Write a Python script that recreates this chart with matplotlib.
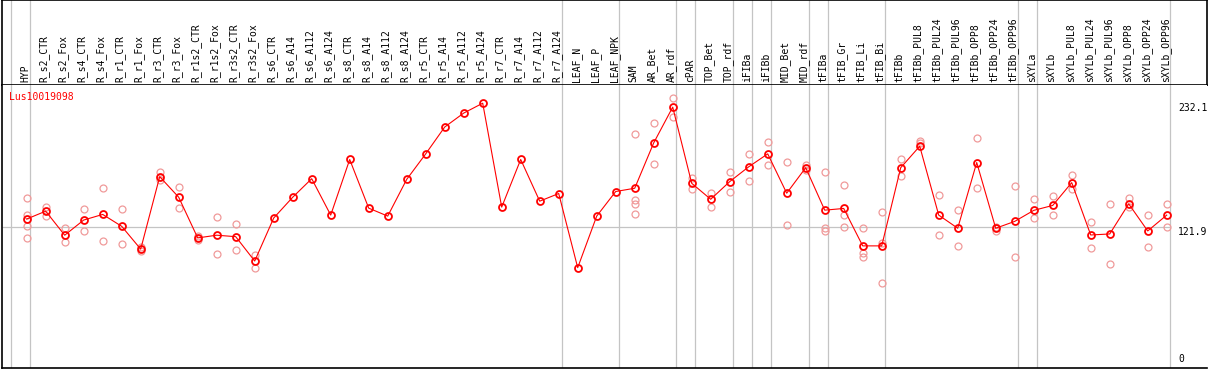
import numpy as np
import matplotlib
matplotlib.use('Agg')
import matplotlib.pyplot as plt

# Expression profile of Lus10019098 across samples
gene = 'Lus10019098'

labels = ['HYP', 'R_s2_CTR', 'R_s2_Fox', 'R_s4_CTR', 'R_s4_Fox', 'R_r1_CTR', 'R_r1_Fox',
          'R_r3_CTR', 'R_r3_Fox', 'R_r1s2_CTR', 'R_r1s2_Fox', 'R_r3s2_CTR', 'R_r3s2_Fox',
          'R_s6_CTR', 'R_s6_A14', 'R_s6_A112', 'R_s6_A124', 'R_s8_CTR', 'R_s8_A14',
          'R_s8_A112', 'R_s8_A124', 'R_r5_CTR', 'R_r5_A14', 'R_r5_A112', 'R_r5_A124',
          'R_r7_CTR', 'R_r7_A14', 'R_r7_A112', 'R_r7_A124', 'LEAF_N', 'LEAF_P', 'LEAF_NPK',
          'SAM', 'AR_Bet', 'AR_rdf', 'cPAR', 'TOP_Bet', 'TOP_rdf', 'iFIBa', 'iFIBb',
          'MID_Bet', 'MID_rdf', 'tFIBa', 'tFIB_Gr', 'tFIB_Li', 'tFIB_Bi', 'tFIBb',
          'tFIBb_PUL8', 'tFIBb_PUL24', 'tFIBb_PUL96', 'tFIBb_OPP8', 'tFIBb_OPP24',
          'tFIBb_OPP96', 'sXYLa', 'sXYLb', 'sXYLb_PUL8', 'sXYLb_PUL24', 'sXYLb_PUL96',
          'sXYLb_OPP8', 'sXYLb_OPP24', 'sXYLb_OPP96']

means = [129.0, 136.0, 114.6, 128.1, 133.1, 122.5, 102.2, 166.7, 148.4, 112.2, 114.6,
         113.3, 91.6, 129.9, 148.4, 164.9, 132.5, 182.0, 138.7, 131.6, 164.3, 187.0,
         210.9, 223.3, 232.1, 139.6, 182.0, 144.9, 151.7, 85.7, 131.6, 153.5, 156.4,
         196.8, 228.6, 160.8, 146.6, 162.3, 175.5, 187.0, 152.0, 174.7, 136.9, 138.4,
         105.1, 105.1, 174.7, 193.8, 132.5, 120.8, 179.3, 120.8, 126.9, 136.7, 141.1,
         161.4, 114.8, 115.7, 142.5, 118.4, 132.5]

reps = [[148.1, 132.5, 123.0, 112.2], [139.6, 131.9], [121.0, 108.4], [137.8, 118.4],
        [157.0, 109.3], [137.8, 106.6], [104.0, 100.4], [170.8, 163.7], [157.9, 138.4],
        [114.2, 110.7], [130.7, 98.0], [124.3, 101.6], [97.4, 85.4],
        [], [], [], [], [], [], [], [], [], [], [], [], [], [], [], [], [], [], [],
        [204.7, 145.8, 142.0, 133.1], [214.4, 178.2], [236.5, 219.7], [165.8, 156.1],
        [152.6, 139.3], [171.1, 153.5], [187.0, 163.2], [197.6, 177.3], [180.0, 123.4],
        [176.7, 172.7], [171.1, 121.0, 118.6], [159.6, 132.8, 121.6], [120.8, 98.7, 95.1],
        [134.9, 107.5, 72.2], [182.6, 167.2], [198.2, 196.8], [150.8, 114.8],
        [137.0, 105.1], [201.2, 156.4], [122.2, 118.6], [158.8, 95.1], [146.4, 129.6],
        [149.9, 132.5], [167.9, 155.5], [126.1, 103.1], [142.0, 89.2], [147.3, 139.3],
        [132.2, 104.0], [142.0, 121.6]]

# group separators (index of first column after the line)
groups = [0, 1, 29, 32, 35, 36, 38, 39, 40, 42, 43, 46, 53, 54, 61]
y_ticks = [232.1, 121.9, 0]
ref_level = 121.9

x = np.arange(len(labels))
W, H = 1209, 370
fig = plt.figure(figsize=(W / 100, H / 100), dpi=100)

xlim = (-1.3, 62.12)
grey = '#c4c4c4'
font = dict(family='DejaVu Sans Mono', fontsize=7)

# header with sample names
axh = fig.add_axes([2 / W, 1 - 85 / H, 1205 / W, 85 / H])
axh.set_xlim(xlim)
axh.set_ylim(0, 1)
axh.set_xticks([])
axh.set_yticks([])
for s in axh.spines.values():
    s.set_linewidth(1.2)
for i, lab in enumerate(labels):
    axh.text(i - 0.08, 0.03, lab, rotation=90, ha='center', va='bottom', **font)
for g in groups:
    axh.axvline(g - 0.83, color=grey, lw=0.9, zorder=0)

# plot area
ax = fig.add_axes([2 / W, 2 / H, 1205 / W, 283 / H])
ax.set_xlim(xlim)
ax.set_ylim(-3.6, 248.3)
ax.set_xticks([])
ax.set_yticks([])
ax.spines['top'].set_visible(False)
ax.spines['right'].set_visible(False)
ax.spines['left'].set_linewidth(1.2)
ax.spines['bottom'].set_linewidth(1.2)

for g in groups:
    ax.axvline(g - 0.83, color=grey, lw=0.9, zorder=0)
ax.hlines(ref_level, xlim[0], groups[-1] - 0.83, color=grey, lw=0.9, zorder=0)

for i, r in enumerate(reps):
    if r:
        ax.plot([i] * len(r), r, 'o', ms=5, mfc='none', mec='#f09a9a', mew=0.9, zorder=2)

ax.plot(x, means, '-', color='red', lw=0.8, zorder=3)
ax.plot(x, means, 'o', ms=5, mfc='none', mec='red', mew=1.3, zorder=4)

ax.text(0.0058, 0.958, gene, color='red', transform=ax.transAxes, ha='left', va='center', **font)

xt = (1178 - 26.7) / 19
for v in y_ticks:
    ax.annotate(str(v) if v else '0', (xt, v), ha='left', va='top' if v else 'bottom',
                annotation_clip=False, **font)

fig.savefig('out.png', dpi=100)
